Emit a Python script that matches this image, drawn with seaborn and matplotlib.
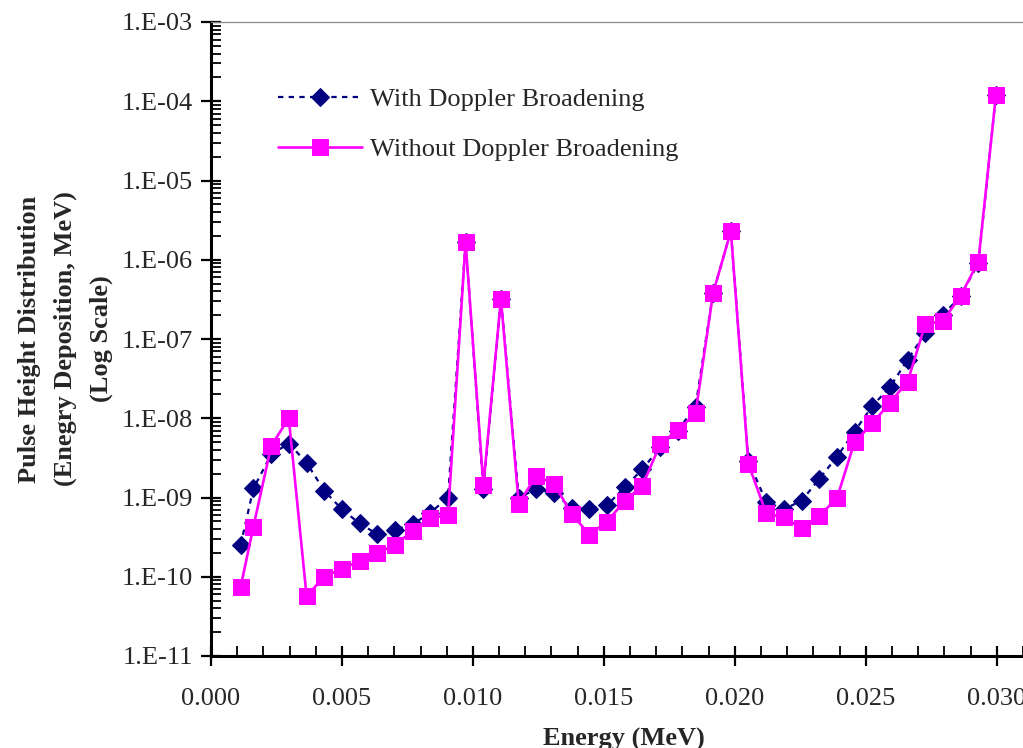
import numpy as np
import pandas as pd
import matplotlib
matplotlib.use("Agg")
import matplotlib.pyplot as plt
from matplotlib.ticker import LogLocator, FuncFormatter, MultipleLocator, NullFormatter
import seaborn as sns

# Energy bins (MeV)
energy = [0.00113, 0.00162, 0.00230, 0.00297, 0.00365, 0.00432, 0.00500, 0.00567,
          0.00635, 0.00702, 0.00770, 0.00837, 0.00905, 0.00972, 0.01040, 0.01107,
          0.01175, 0.01242, 0.01310, 0.01377, 0.01445, 0.01512, 0.01580, 0.01647,
          0.01715, 0.01782, 0.01850, 0.01917, 0.01985, 0.02052, 0.02120, 0.02187,
          0.02255, 0.02322, 0.02390, 0.02457, 0.02525, 0.02592, 0.02660, 0.02727,
          0.02795, 0.02862, 0.02930, 0.02997]

# Pulse height distribution with Doppler broadening
with_doppler = [2.5e-10, 1.3e-9, 3.5e-9, 4.8e-9, 2.75e-9, 1.22e-9, 7.1e-10, 4.7e-10,
                3.45e-10, 3.9e-10, 4.6e-10, 6.4e-10, 1.0e-9, 1.67e-6, 1.28e-9, 3.2e-7,
                1.0e-9, 1.27e-9, 1.13e-9, 7.4e-10, 7.1e-10, 8.0e-10, 1.35e-9, 2.27e-9,
                4.3e-9, 7.0e-9, 1.4e-8, 3.8e-7, 2.3e-6, 2.9e-9, 8.8e-10, 7.1e-10,
                9.1e-10, 1.71e-9, 3.27e-9, 6.8e-9, 1.43e-8, 2.46e-8, 5.5e-8, 1.18e-7,
                2.0e-7, 3.5e-7, 9.0e-7, 1.19e-4]

# Pulse height distribution without Doppler broadening
without_doppler = [7.4e-11, 4.3e-10, 4.5e-9, 1.0e-8, 5.7e-11, 1.0e-10, 1.26e-10, 1.58e-10,
                   2.0e-10, 2.5e-10, 3.8e-10, 5.5e-10, 6.0e-10, 1.67e-6, 1.43e-9, 3.2e-7,
                   8.4e-10, 1.88e-9, 1.48e-9, 6.2e-10, 3.4e-10, 4.95e-10, 9.1e-10, 1.40e-9,
                   4.7e-9, 7.1e-9, 1.15e-8, 3.8e-7, 2.3e-6, 2.65e-9, 6.3e-10, 5.6e-10,
                   4.1e-10, 5.85e-10, 9.8e-10, 5.0e-9, 8.6e-9, 1.57e-8, 2.9e-8, 1.53e-7,
                   1.70e-7, 3.5e-7, 9.5e-7, 1.19e-4]

label_with = "With Doppler Broadening"
label_without = "Without Doppler Broadening"

sns.set_theme(style="white")
plt.rcParams["font.family"] = ["Liberation Serif", "DejaVu Serif"]

df_with = pd.DataFrame({"Energy": energy, "PHD": with_doppler})
df_without = pd.DataFrame({"Energy": energy, "PHD": without_doppler})

W, H = 1023, 748
fig = plt.figure(figsize=(W / 100, H / 100), dpi=100)
left, right, top, bottom = 211, 1036, 22, 656
ax = fig.add_axes([left / W, 1 - bottom / H, (right - left) / W, (bottom - top) / H])

navy = "#000080"
magenta = "#FF00FF"

sns.lineplot(data=df_with, x="Energy", y="PHD", ax=ax, color=navy,
             linestyle=(0, (2.4, 2.4)), linewidth=1.6, marker="D", markersize=9.5,
             markeredgecolor=navy, markerfacecolor=navy, label=label_with, zorder=3)
sns.lineplot(data=df_without, x="Energy", y="PHD", ax=ax, color=magenta,
             linestyle="-", linewidth=1.9, marker="s", markersize=11,
             markeredgecolor=magenta, markerfacecolor=magenta, label=label_without, zorder=4)

ax.set_yscale("log")
ax.set_ylim(1e-11, 1e-3)
ax.set_xlim(0, 0.0315)

# Axis ticks
ax.xaxis.set_major_locator(MultipleLocator(0.005))
ax.xaxis.set_minor_locator(MultipleLocator(0.001))
ax.xaxis.set_major_formatter(FuncFormatter(lambda v, p: f"{v:.3f}"))
ax.yaxis.set_major_locator(LogLocator(base=10, numticks=20))
ax.yaxis.set_minor_locator(LogLocator(base=10, subs=np.arange(2, 10), numticks=20))
ax.yaxis.set_minor_formatter(NullFormatter())
ax.yaxis.set_major_formatter(FuncFormatter(lambda v, p: f"1.E{int(round(np.log10(v))):+03d}"))

ax.tick_params(axis="x", which="major", direction="inout", length=14, width=1.6,
               labelsize=19, pad=16, color="black", bottom=True)
ax.tick_params(axis="x", which="minor", direction="in", length=7, width=1.3,
               color="black", bottom=True)
ax.tick_params(axis="y", which="major", direction="inout", length=14, width=1.6,
               labelsize=19, pad=6, color="black", left=True)
ax.tick_params(axis="y", which="minor", direction="in", length=7, width=1.3,
               color="black", left=True)

for s in ["left", "bottom"]:
    ax.spines[s].set_color("black")
    ax.spines[s].set_linewidth(2.2)
ax.spines["top"].set_color("#888888")
ax.spines["top"].set_linewidth(0.9)
ax.spines["right"].set_visible(False)
ax.grid(False)

ax.set_xlabel("Energy (MeV)", fontsize=19, fontweight="bold", labelpad=13)
ax.set_ylabel("Pulse Height Distribution\n(Enegry Deposition, MeV)\n(Log Scale)",
              fontsize=19, fontweight="bold", labelpad=6, linespacing=1.7)

leg = ax.legend(loc="upper left", bbox_to_anchor=(278 / W, 1 - 88 / H),
                bbox_transform=fig.transFigure, frameon=False, fontsize=19,
                handlelength=3.2, handletextpad=0.3, labelspacing=1.0,
                borderpad=0, borderaxespad=0)

fig.savefig("out.png", dpi=100)
